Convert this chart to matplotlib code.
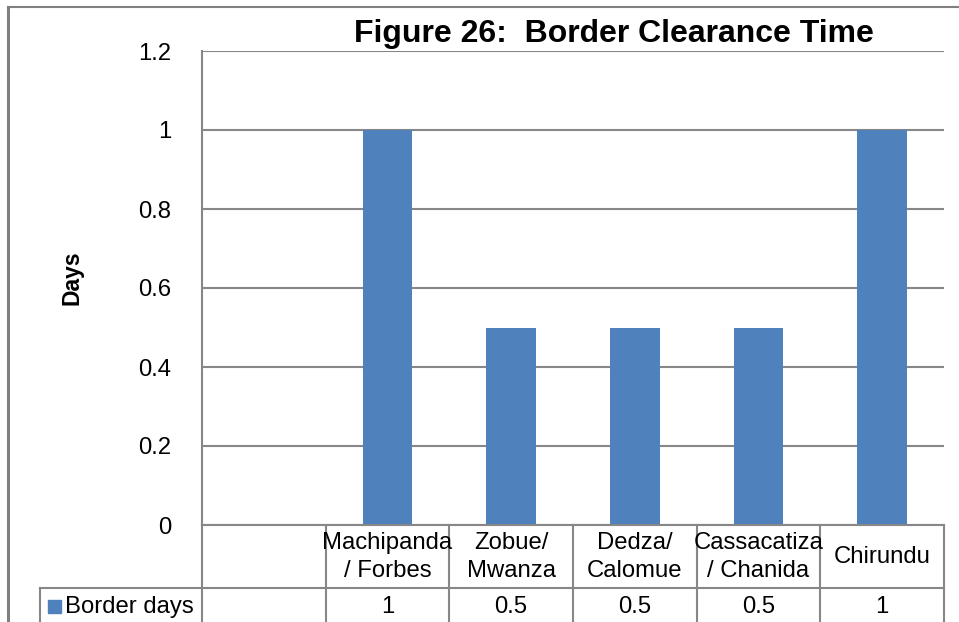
import matplotlib
matplotlib.use("Agg")
import matplotlib.pyplot as plt
from matplotlib.lines import Line2D
from matplotlib.patches import Rectangle
import matplotlib.transforms as mtransforms

plt.rcParams['font.family'] = ['Liberation Sans', 'DejaVu Sans']

# border crossings (first column of the sheet is blank)
categories = ['', 'Machipanda\n/ Forbes', 'Zobue/\nMwanza', 'Dedza/\nCalomue',
              'Cassacatiza\n/ Chanida', 'Chirundu']
border_days = [None, 1, 0.5, 0.5, 0.5, 1]
value_text = ['', '1', '0.5', '0.5', '0.5', '1']
series_name = 'Border days'
yticks = [0, 0.2, 0.4, 0.6, 0.8, 1, 1.2]
ytick_labels = ['0', '0.2', '0.4', '0.6', '0.8', '1', '1.2']

bar_color = '#4F81BD'
grid_color = '#878787'
W, H = 959, 622
fs = 17.2

fig = plt.figure(figsize=(W / 100, H / 100), dpi=100)
ax = fig.add_axes([202 / W, (H - 525) / H, (944 - 202) / W, (525 - 51) / H])

xs = list(range(len(categories)))
for x, v in zip(xs, border_days):
    if v is not None:
        ax.bar(x, v, width=0.4, color=bar_color, zorder=3)

ax.set_xlim(-0.5, len(categories) - 0.5)
ax.set_ylim(0, 1.2)
ax.set_yticks(yticks)
ax.set_yticklabels(ytick_labels, fontsize=fs)
ax.tick_params(axis='y', length=0, pad=22)
ax.set_xticks([])
ax.grid(axis='y', color=grid_color, linewidth=1.5, zorder=0)
for side in ['top', 'right', 'bottom']:
    ax.spines[side].set_visible(False)
ax.spines['left'].set_color(grid_color)
ax.spines['left'].set_linewidth(1.5)
ax.spines['left'].set_zorder(4)

fig.text(72 / W, 1 - 278 / H, 'Days', fontsize=16.5, fontweight='bold',
         rotation=90, ha='center', va='center')

fig.text(614 / W, 1 - 34 / H, 'Figure 26:  Border Clearance Time',
         fontsize=23, fontweight='bold', ha='center', va='center')

# data table under the axis
trans = mtransforms.blended_transform_factory(ax.transData, ax.transAxes)
ftrans = mtransforms.blended_transform_factory(ax.transData, fig.transFigure)
row_bot = -0.4
lw = 1.5
ax.add_line(Line2D([-0.5, len(categories) - 0.5], [0, 0], transform=trans,
                   color=grid_color, lw=lw, clip_on=False, zorder=5))
for i in range(len(categories) + 1):
    ax.add_line(Line2D([i - 0.5, i - 0.5], [0, row_bot], transform=trans,
                       color=grid_color, lw=lw, clip_on=False))
for i, (lab, val) in enumerate(zip(categories, value_text)):
    ax.text(i, 1 - 557 / H, lab, transform=ftrans, ha='center', va='center',
            fontsize=fs, linespacing=1.4)
    ax.text(i, 1 - 607 / H, val, transform=ftrans, ha='center', va='center',
            fontsize=fs)

# header cell of the value row
fig.add_artist(Line2D([40 / W, 944 / W], [1 - 588 / H, 1 - 588 / H],
                      color=grid_color, lw=lw))
fig.add_artist(Line2D([40 / W, 40 / W], [1 - 588 / H, -0.1],
                      color=grid_color, lw=lw))
fig.add_artist(Rectangle((48 / W, 1 - 613 / H), 13 / W, 13 / H,
                         transform=fig.transFigure, color=bar_color))
fig.text(65 / W, 1 - 607 / H, series_name, fontsize=fs, ha='left', va='center')

# outer chart frame
fig.add_artist(Line2D([8 / W, 1.0], [1 - 7 / H, 1 - 7 / H], color='#808080', lw=1.5))
fig.add_artist(Line2D([8 / W, 8 / W], [1 - 7 / H, 0], color='#808080', lw=2.2))

fig.savefig('out.png', dpi=100)
